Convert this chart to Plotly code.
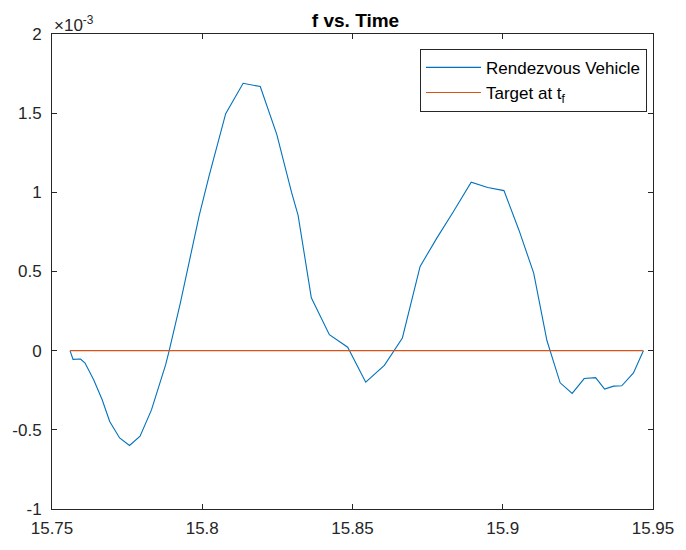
import plotly.graph_objects as go

# Time samples and f values (f in units of 1e-3)
time = [15.756, 15.757, 15.7595, 15.761, 15.7639, 15.7667, 15.7692, 15.7725,
        15.7758, 15.7793, 15.7831, 15.7878, 15.789, 15.7927, 15.799, 15.8023,
        15.8078, 15.8136, 15.8193, 15.8248, 15.8297, 15.8319, 15.8363, 15.8423,
        15.8484, 15.8544, 15.8606, 15.8666, 15.8725, 15.878, 15.8835, 15.8895,
        15.895, 15.9004, 15.9054, 15.9103, 15.9147, 15.9191, 15.9231, 15.9271,
        15.9309, 15.9339, 15.9369, 15.9396, 15.9435, 15.9468]
f_vals = [0.0, -0.055, -0.053, -0.078, -0.185, -0.31, -0.447, -0.551,
          -0.599, -0.54, -0.374, -0.09, 0.0, 0.3, 0.855, 1.105,
          1.497, 1.689, 1.668, 1.366, 1.001, 0.855, 0.334, 0.101,
          0.022, -0.199, -0.093, 0.08, 0.532, 0.709, 0.876, 1.064,
          1.03, 1.011, 0.761, 0.49, 0.064, -0.203, -0.27, -0.176,
          -0.17, -0.243, -0.224, -0.222, -0.141, 0.0]

target_time = [time[0], time[-1]]
target_f = [0.0, 0.0]

x_ticks = [15.75, 15.8, 15.85, 15.9, 15.95]
x_tick_text = ["15.75", "15.8", "15.85", "15.9", "15.95"]
y_ticks = [-1, -0.5, 0, 0.5, 1, 1.5, 2]
y_tick_text = ["-1", "-0.5", "0", "0.5", "1", "1.5", "2"]

FONT = "Liberation Sans, Arial, Helvetica, sans-serif"
AXIS_COLOR = "#262626"

fig = go.Figure()
fig.add_trace(go.Scatter(x=time, y=f_vals, mode="lines",
                         name="Rendezvous Vehicle",
                         line=dict(color="#0072BD", width=1.1)))
fig.add_trace(go.Scatter(x=target_time, y=target_f, mode="lines",
                         name="Target at t<sub>f</sub>",
                         line=dict(color="#D95319", width=1.1)))

axis_common = dict(
    showgrid=False, zeroline=False, showline=True, mirror="ticks",
    linecolor=AXIS_COLOR, linewidth=1, ticks="inside", ticklen=5,
    tickcolor=AXIS_COLOR, tickwidth=1,
    tickfont=dict(family=FONT, size=17, color=AXIS_COLOR),
)

fig.update_layout(
    width=686, height=550,
    margin=dict(l=51, r=26, t=34, b=37),
    paper_bgcolor="white", plot_bgcolor="white",
    font=dict(family=FONT, size=17, color=AXIS_COLOR),
    title=dict(text="<b>f vs. Time</b>", x=(51 + 660) / 2 / 686, xanchor="center",
               y=1 - 20 / 550, yanchor="middle", yref="container",
               font=dict(family=FONT, size=19, color="#000000")),
    xaxis=dict(range=[15.75, 15.95], tickvals=x_ticks, ticktext=x_tick_text,
               ticklabelstandoff=4, **axis_common),
    yaxis=dict(range=[-1, 2], tickvals=y_ticks, ticktext=y_tick_text,
               ticklabelstandoff=6, **axis_common),
    legend=dict(x=0.990, y=0.9687, xanchor="right", yanchor="top",
                bgcolor="white", bordercolor=AXIS_COLOR, borderwidth=1,
                font=dict(family=FONT, size=17, color="#000000"),
                itemwidth=55, tracegroupgap=0),
    showlegend=True,
    annotations=[dict(text="×10<sup>-3</sup>", xref="paper", yref="paper",
                      x=0, y=1, xanchor="left", yanchor="bottom",
                      xshift=0, yshift=-3, showarrow=False,
                      font=dict(family=FONT, size=17, color=AXIS_COLOR))],
)

fig.write_html("out.html")
